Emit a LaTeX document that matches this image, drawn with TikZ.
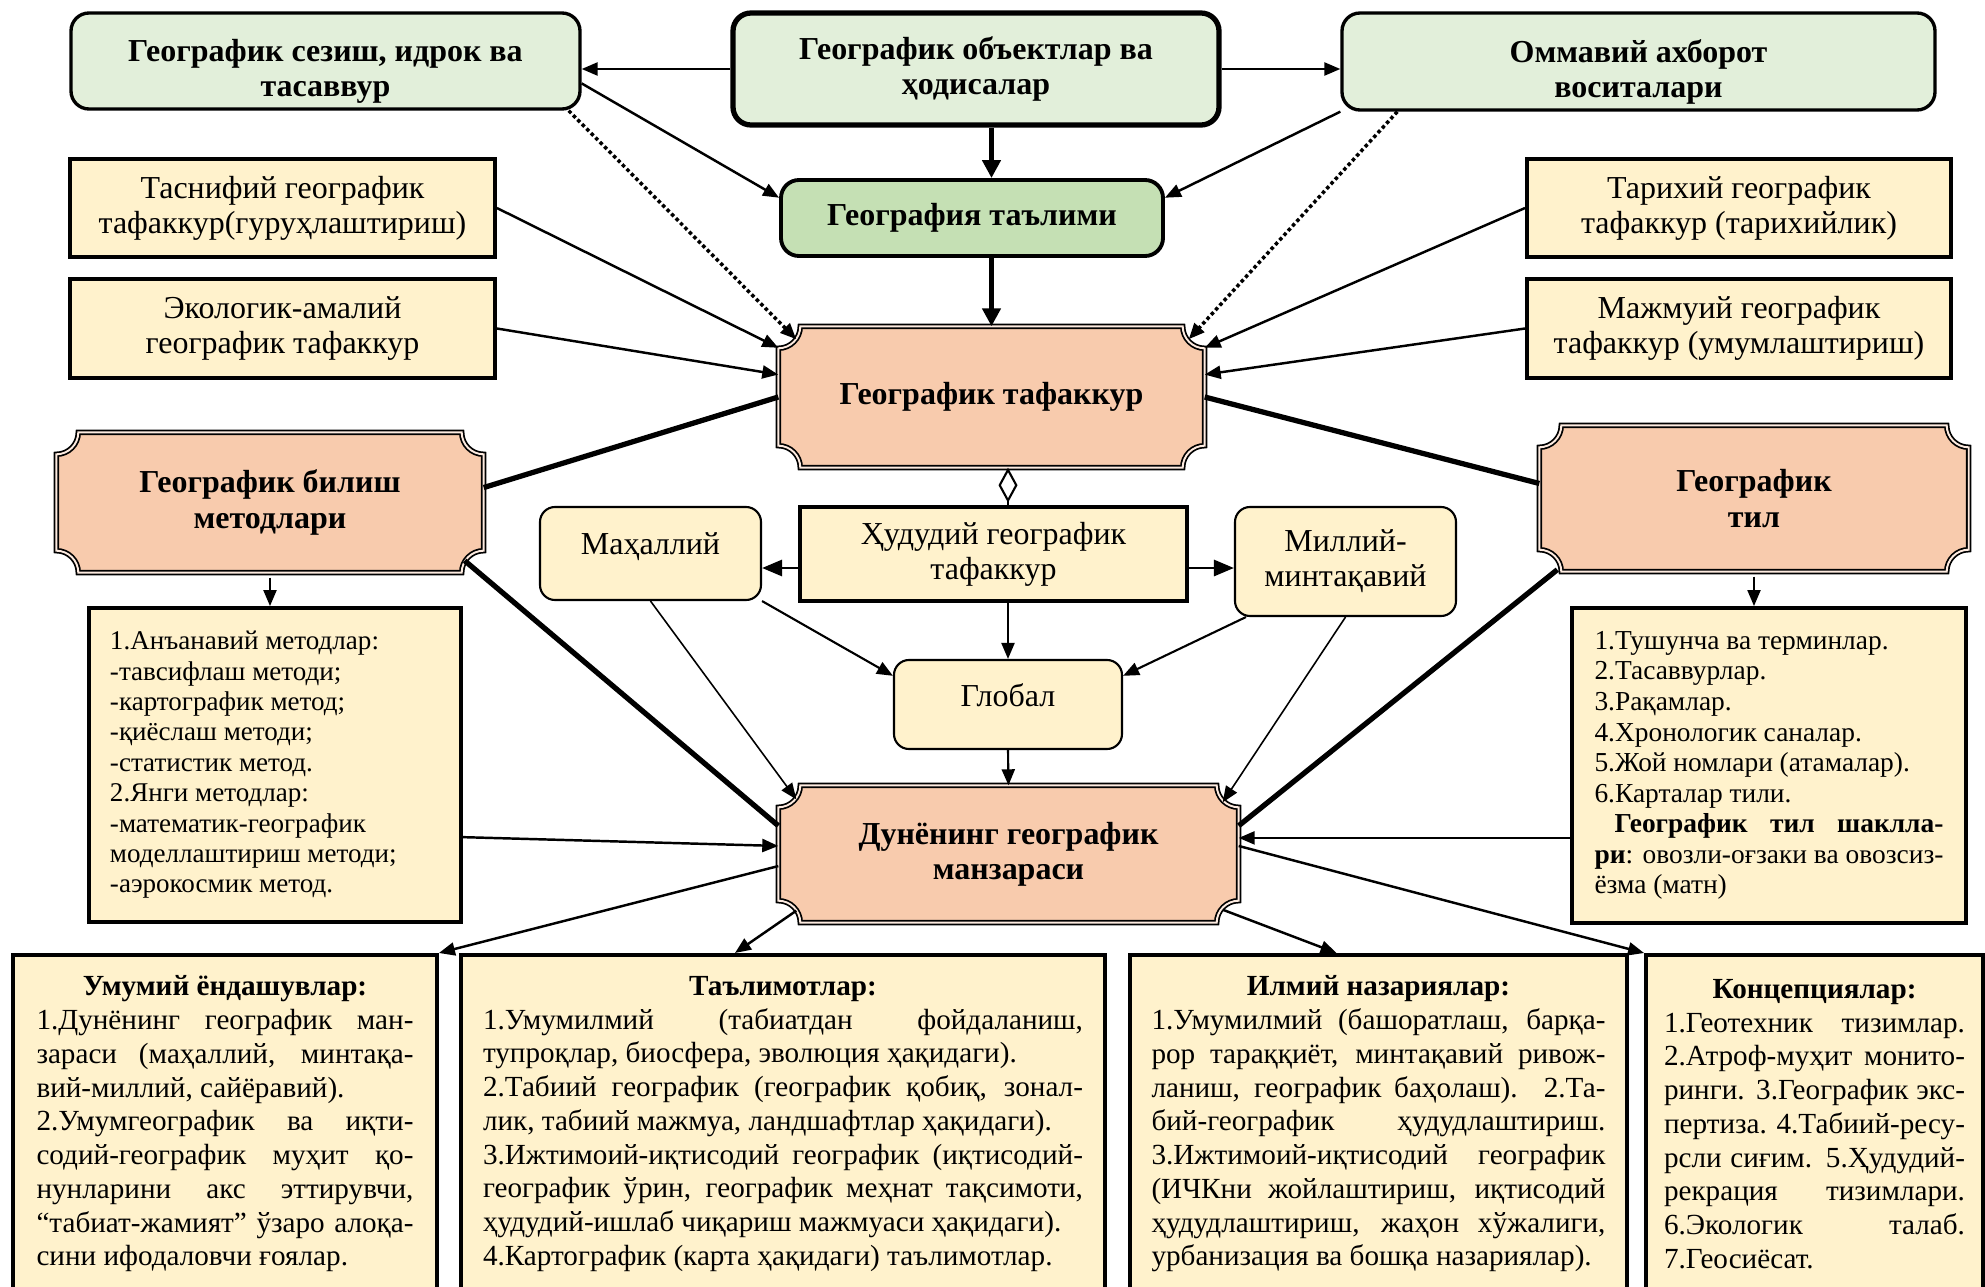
\documentclass[tikz,border=0pt]{standalone}
\usepackage{fontspec}
\setmainfont{Liberation Serif}
\usetikzlibrary{arrows.meta, positioning, calc, backgrounds}
\definecolor{lgreen}{HTML}{E2EFDA}
\definecolor{mgreen}{HTML}{C5E0B4}
\definecolor{lyellow}{HTML}{FFF2CC}
\definecolor{salmon}{HTML}{F8CBAD}
\definecolor{stripe}{HTML}{FDEBE0}

% justified line / centred bold heading inside the text boxes
\newcommand{\jl}[1]{\makebox[\linewidth][s]{\spaceskip=0pt\xspaceskip=0pt\relax#1}}
\newcommand{\hd}[1]{\makebox[\linewidth][c]{\textbf{#1}}}

% plaque frame (concave corners, double rule) round a named node
\newcommand{\plqr}{0.22}
\newcommand{\drawplaque}[1]{%
  \begin{scope}[on background layer]
  \path[plaquerule]
    ($(#1.north west)+(\plqr,0)$) -- ($(#1.north east)+(-\plqr,0)$)
    arc[start angle=180, end angle=270, radius=\plqr]
    -- ($(#1.south east)+(0,\plqr)$)
    arc[start angle=90, end angle=180, radius=\plqr]
    -- ($(#1.south west)+(\plqr,0)$)
    arc[start angle=0, end angle=90, radius=\plqr]
    -- ($(#1.north west)+(0,-\plqr)$)
    arc[start angle=270, end angle=360, radius=\plqr]
    -- cycle;
  \end{scope}}

\begin{document}
\begin{tikzpicture}[
  >={Triangle[length=1.6mm, width=1.3mm]},
  greenbox/.style={draw, fill=lgreen, rounded corners=0.18cm, line width=0.95pt,
    align=center, inner sep=0pt, font=\fontsize{9.1}{10}\selectfont\bfseries},
  thinkbox/.style={draw, fill=lyellow, line width=1.1pt, align=center, inner sep=0pt,
    font=\fontsize{9.1}{10}\selectfont},
  roundbox/.style={thinkbox, rounded corners=0.15cm, line width=0.6pt},
  plaquebox/.style={align=center, inner sep=0pt, font=\fontsize{9.1}{10}\selectfont\bfseries},
  plaquerule/.style={fill=salmon, draw=black, line width=0.5pt, double=stripe, double distance=0.55pt},
  listbox/.style={draw, fill=lyellow, line width=1.1pt, align=flush left, inner sep=0pt},
  bottombox/.style={draw, fill=lyellow, line width=1.1pt, align=flush left, inner sep=0pt,
    anchor=north, minimum height=3.38cm, font=\fontsize{8.3}{9.6}\selectfont},
  link/.style={->, line width=0.7pt},
  thin link/.style={->, line width=0.45pt},
  heavy/.style={line width=1.5pt},
  heavy link/.style={->, line width=1.3pt, >={Triangle[length=1.8mm, width=1.8mm]}},
  side link/.style={->, line width=0.8pt, >={Triangle[length=2mm, width=1.6mm]}},
  dotlink/.style={->, line width=1pt, dash pattern=on 1pt off 0.8pt},
]

\useasboundingbox (0,0) rectangle (19.85,12.86);

% --- Top row ---
\node[greenbox, minimum width=5.09cm, minimum height=0.96cm] (sezish) at (3.255,12.25)
  {\rule{0pt}{0.43cm}Географик сезиш, идрок ва\\тасаввур};
\node[greenbox, line width=1.5pt, minimum width=4.86cm, minimum height=1.12cm] (obyekt) at (9.76,12.17)
  {Географик объектлар ва\\ҳодисалар};
\node[greenbox, minimum width=5.93cm, minimum height=0.97cm] (ommaviy) at (16.385,12.245)
  {\rule{0pt}{0.43cm}Оммавий ахборот\\воситалари};
\node[greenbox, fill=mgreen, line width=1.1pt, minimum width=3.82cm, minimum height=0.76cm] (talim) at (9.72,10.68)
  {География таълими};

% --- Kinds of thinking ---
\node[thinkbox, minimum width=4.25cm, minimum height=0.98cm] (tasnif) at (2.825,10.78)
  {Таснифий географик\\тафаккур(гуруҳлаштириш)};
\node[thinkbox, minimum width=4.25cm, minimum height=0.99cm] (ekolog) at (2.825,9.575)
  {Экологик-амалий\\географик тафаккур};
\node[thinkbox, minimum width=4.24cm, minimum height=0.98cm] (tarix) at (17.39,10.78)
  {Тарихий географик\\тафаккур (тарихийлик)};
\node[thinkbox, minimum width=4.24cm, minimum height=0.99cm] (majmu) at (17.39,9.575)
  {Мажмуий географик\\тафаккур (умумлаштириш)};

% --- Plaques ---
\node[plaquebox, minimum width=4.25cm, minimum height=1.40cm] (tafak) at (9.915,8.89)
  {Географик тафаккур};
\node[plaquebox, minimum width=4.26cm, minimum height=1.39cm] (bilish) at (2.70,7.835)
  {Географик билиш\\методлари};
\node[plaquebox, minimum width=4.28cm, minimum height=1.45cm] (til) at (17.54,7.875)
  {Географик\\тил};
\node[plaquebox, minimum width=4.59cm, minimum height=1.36cm] (dunyo) at (10.085,4.32)
  {Дунёнинг географик\\манзараси};
\drawplaque{tafak}
\drawplaque{bilish}
\drawplaque{til}
\drawplaque{dunyo}

% --- Scales of territorial thinking ---
\node[roundbox, minimum width=2.21cm, minimum height=0.93cm, text depth=0.2cm] (mahal) at (6.505,7.325)
  {Маҳаллий};
\node[thinkbox, minimum width=3.87cm, minimum height=0.94cm] (hudud) at (9.935,7.32)
  {Ҳудудий географик\\тафаккур};
\node[roundbox, minimum width=2.21cm, minimum height=1.09cm] (milliy) at (13.455,7.245)
  {Миллий-\\минтақавий};
\node[roundbox, minimum width=2.28cm, minimum height=0.89cm, text depth=0.18cm] (global) at (10.08,5.815)
  {Глобал};

% --- Lists under the side plaques ---
\node[listbox, minimum width=3.72cm, minimum height=3.14cm, text width=3.3cm,
  font=\fontsize{7.7}{8.65}\selectfont] (metlist) at (2.75,5.21)
  {1.Анъанавий методлар:\\
   -тавсифлаш методи;\\
   -картографик метод;\\
   -қиёслаш методи;\\
   -статистик метод.\\
   2.Янги методлар:\\
   -математик-географик\\
   моделлаштириш методи;\\
   -аэрокосмик метод.};
\node[listbox, minimum width=3.94cm, minimum height=3.15cm, text width=3.49cm,
  font=\fontsize{7.8}{8.7}\selectfont] (tillist) at (17.69,5.205)
  {1.Тушунча ва терминлар.\\
   2.Тасаввурлар.\\
   3.Рақамлар.\\
   4.Хронологик саналар.\\
   5.Жой номлари (атамалар).\\
   6.Карталар тили.\\
   \jl{\hspace*{0.2cm}\textbf{Географик тил шаклла-}}\\
   \jl{\textbf{ри}: овозли-оғзаки ва овозсиз-}\\
   ёзма (матн)};

% --- Bottom row ---
\node[bottombox, minimum width=4.24cm, text width=3.77cm] (umumiy) at (2.25,3.33)
  {\hd{Умумий ёндашувлар:}\\
   \jl{1.Дунёнинг географик ман-}\\
   \jl{зараси (маҳаллий, минтақа-}\\
   вий-миллий, сайёравий).\\
   \jl{2.Умумгеографик ва иқти-}\\
   \jl{содий-географик муҳит қо-}\\
   \jl{нунларини акс эттирувчи,}\\
   \jl{“табиат-жамият” ўзаро алоқа-}\\
   сини ифодаловчи ғоялар.};
\node[bottombox, minimum width=6.44cm, text width=6.0cm] (talimot) at (7.83,3.33)
  {\hd{Таълимотлар:}\\
   \jl{1.Умумилмий (табиатдан фойдаланиш,}\\
   тупроқлар, биосфера, эволюция ҳақидаги).\\
   \jl{2.Табиий географик (географик қобиқ, зонал-}\\
   лик, табиий мажмуа, ландшафтлар ҳақидаги).\\
   \jl{3.Ижтимоий-иқтисодий географик (иқтисодий-}\\
   \jl{географик ўрин, географик меҳнат тақсимоти,}\\
   ҳудудий-ишлаб чиқариш мажмуаси ҳақидаги).\\
   4.Картографик (карта ҳақидаги) таълимотлар.};
\node[bottombox, minimum width=4.97cm, text width=4.54cm] (ilmiy) at (13.785,3.33)
  {\hd{Илмий назариялар:}\\
   \jl{1.Умумилмий (башоратлаш, барқа-}\\
   \jl{рор тараққиёт, минтақавий ривож-}\\
   \jl{ланиш, географик баҳолаш). 2.Та-}\\
   \jl{бий-географик ҳудудлаштириш.}\\
   \jl{3.Ижтимоий-иқтисодий географик}\\
   \jl{(ИЧКни жойлаштириш, иқтисодий}\\
   \jl{ҳудудлаштириш, жаҳон хўжалиги,}\\
   урбанизация ва бошқа назариялар).};
\node[bottombox, minimum width=3.37cm, text width=3.01cm] (konsep) at (18.145,3.33)
  {\hd{Концепциялар:}\\
   \jl{1.Геотехник тизимлар.}\\
   \jl{2.Атроф-муҳит монито-}\\
   \jl{ринги. 3.Географик экс-}\\
   \jl{пертиза. 4.Табиий-ресу-}\\
   \jl{рсли сиғим. 5.Ҳудудий-}\\
   \jl{рекрация тизимлари.}\\
   \jl{6.Экологик талаб.}\\
   7.Геосиёсат.};

% --- Connectors: top ---
\draw[link] (obyekt.west) -- (obyekt.west -| sezish.east);
\draw[link] (obyekt.east) -- (obyekt.east -| ommaviy.west);
\draw[heavy link] (obyekt.south -| tafak) -- (talim.north -| tafak);
\draw[heavy link] (talim.south -| tafak) -- (tafak.north);
\draw[link] (sezish.355) -- (talim.174);
\draw[link] (ommaviy.south west) -- (talim.6);
\draw[dotlink] ([xshift=-0.13cm]sezish.south east) -- ([shift={(0.18,-0.13)}]tafak.north west);
\draw[dotlink] ([xshift=0.57cm]ommaviy.south west) -- ([shift={(-0.16,-0.13)}]tafak.north east);
\draw[link] (tasnif.east) -- (tafak.167);
\draw[link] (ekolog.east) -- (tafak.174);
\draw[link] (tarix.west) -- (tafak.13);
\draw[link] (majmu.west) -- (tafak.6);

% --- Connectors: heavy rules ---
\draw[heavy] (tafak.west) -- (bilish.4);
\draw[heavy] (tafak.east) -- (til.176);
\draw[heavy] ([shift={(-0.19,0.12)}]bilish.south east) -- (dunyo.173);
\draw[heavy] ([shift={(0.18,0.02)}]til.south west) -- (dunyo.7);

% --- Connectors: middle ---
\draw[line width=0.6pt, -{Diamond[open, length=3.5mm, width=1.9mm]}] (hudud.north -| global) -- (tafak.south -| global);
\draw[side link] ([yshift=-0.14cm]hudud.west) -- ([yshift=-0.14cm]hudud.west -| mahal.east);
\draw[side link] ([yshift=-0.14cm]hudud.east) -- ([yshift=-0.14cm]hudud.east -| milliy.west);
\draw[link, line width=0.6pt] (hudud.south -| global) -- (global.north);
\draw[link, line width=0.6pt] (mahal.south east) -- (global.166);
\draw[link, line width=0.6pt] ([xshift=0.12cm]milliy.south west) -- (global.14);
\draw[thin link] (mahal.south) -- ([shift={(0.18,-0.14)}]dunyo.north west);
\draw[thin link] (milliy.south) -- ([shift={(-0.16,-0.17)}]dunyo.north east);
\draw[link, line width=0.6pt] (global.south) -- (dunyo.north);
\draw[link, line width=0.6pt] ([yshift=-0.05cm]bilish.south) -- (bilish.south |- metlist.north);
\draw[link, line width=0.6pt] ([yshift=-0.05cm]til.south) -- (til.south |- tillist.north);
\draw[link] (metlist.339) -- (dunyo.178);
\draw[link] (dunyo.4 -| tillist.west) -- (dunyo.4);

% --- Connectors: bottom ---
\draw[link] (dunyo.183) -- (umumiy.north east);
\draw[link] ([shift={(0.18,0.12)}]dunyo.south west) -- ([xshift=-0.48cm]talimot.north);
\draw[link] ([shift={(-0.16,0.13)}]dunyo.south east) -- ([xshift=-0.42cm]ilmiy.north);
\draw[link] (dunyo.2) -- (konsep.north west);

\end{tikzpicture}
\end{document}
